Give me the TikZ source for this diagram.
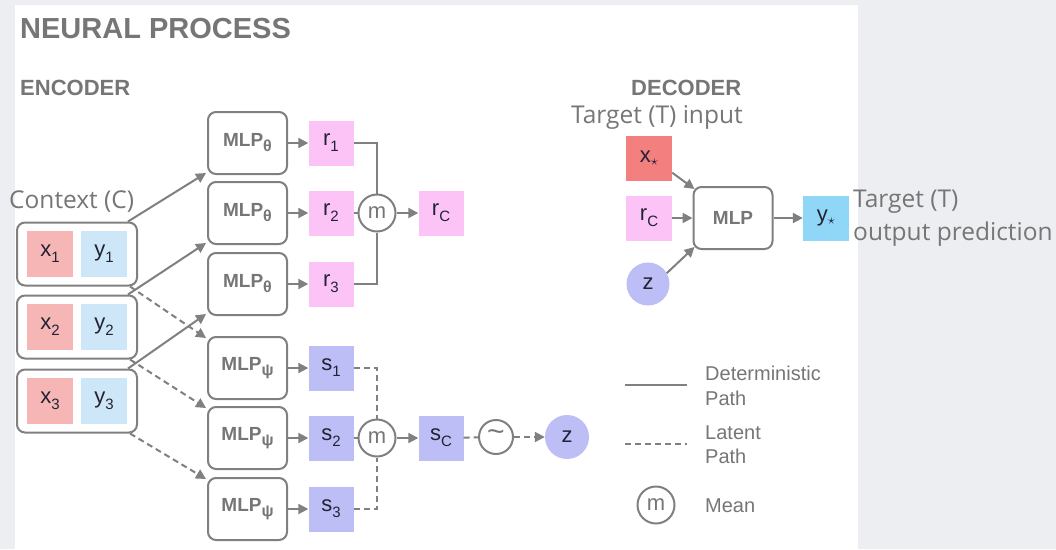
\documentclass[tikz,border=0pt]{standalone}
\usepackage{fontspec}
\setmainfont{Liberation Sans}
\newfontfamily\robo{Open Sans}
\usetikzlibrary{arrows.meta,calc}
\definecolor{bgc}{HTML}{EDEEF2}
\definecolor{lc}{HTML}{808080}
\definecolor{tc}{HTML}{767676}
\definecolor{dark}{HTML}{222233}
\definecolor{pinkc}{HTML}{FBC3F6}
\definecolor{purc}{HTML}{BEBEF7}
\definecolor{xc}{HTML}{F6B6B6}
\definecolor{yc}{HTML}{CEE7F8}
\definecolor{xsc}{HTML}{F37F7F}
\definecolor{ysc}{HTML}{8FD6F7}
\newcommand\mysub[2]{#1\raisebox{-6pt}{\fontsize{15}{15}\selectfont #2}}
\newcommand\mlpsub[1]{MLP\raisebox{-5pt}{\fontsize{16}{16}\selectfont #1}}
\tikzset{
  mlpbox/.style={draw=lc, line width=2pt, rounded corners=8pt, minimum width=79pt,
    minimum height=62pt, inner sep=0pt, fill=white,
    font=\fontsize{19}{19}\selectfont\bfseries, text=tc},
  ctxbox/.style={draw=lc, line width=2pt, rounded corners=8pt, minimum width=120pt,
    minimum height=63pt, inner sep=0pt, fill=white},
  sq/.style={minimum size=45pt, inner sep=0pt, font=\fontsize{22}{22}\selectfont, text=dark},
  rsq/.style={sq, fill=pinkc},
  ssq/.style={sq, fill=purc},
  xsq/.style={sq, fill=xc, minimum size=46pt},
  ysq/.style={sq, fill=yc, minimum size=46pt},
  meanc/.style={circle, draw=lc, line width=2pt, minimum size=37pt, inner sep=0pt, fill=white,
    font=\fontsize{22}{22}\selectfont, text=tc},
  ln/.style={draw=lc, line width=2pt},
  arr/.style={ln, -{Triangle[length=10pt,width=10pt]}},
  dsh/.style={dash pattern=on 6pt off 4pt},
  ttl/.style={anchor=base west, inner sep=0pt, text=tc},
  lbl/.style={anchor=base west, inner sep=0pt, text=tc, font=\robo\fontsize{24.5}{24.5}\selectfont},
  leg/.style={anchor=base west, inner sep=0pt, text=tc, font=\fontsize{20}{20}\selectfont},
}
\begin{document}
\begin{tikzpicture}[x=1pt,y=-1pt]
\useasboundingbox (0,0) rectangle (1056,549);
\fill[bgc] (0,0) rectangle (1056,549);
\fill[white] (15,5) rectangle (858,549);

% titles
\node[ttl, font=\fontsize{29}{29}\selectfont\bfseries] (title) at (20,38) {NEURAL PROCESS};
\node[ttl, font=\fontsize{22}{22}\selectfont\bfseries] (enc) at (20,95) {ENCODER};
\node[ttl, font=\fontsize{22}{22}\selectfont\bfseries] (dec) at (631,95) {DECODER};
\node[lbl] (ctx) at (9,208) {Context (C)};
\node[lbl] (tin) at (571,123) {Target (T) input};
\node[lbl] (tout1) at (853,207) {Target (T)};
\node[lbl] (tout2) at (853,240) {output prediction};

% context boxes
\foreach \i/\yy in {1/254,2/327,3/401}{
  \node[ctxbox] (c\i) at (77,\yy) {};
  \node[xsq] (x\i) at (50,\yy) {\mysub{x}{\i}};
  \node[ysq] (y\i) at (104,\yy) {\mysub{y}{\i}};
}

% MLP boxes
\foreach \i/\yy in {1/143,2/213,3/284}{
  \node[mlpbox] (m\i) at (247.5,\yy) {\mlpsub{θ}};
  \node[rsq] (r\i) at (331,\yy) {\mysub{r}{\i}};
  \draw[arr] (m\i) -- (r\i);
}
\foreach \i/\yy in {1/368,2/438,3/509}{
  \node[mlpbox] (p\i) at (247.5,\yy) {\mlpsub{ψ}};
  \node[ssq] (s\i) at (331,\yy) {\mysub{s}{\i}};
  \draw[arr] (p\i) -- (s\i);
}

% context to MLP
\foreach \i in {1,2,3}{
  \draw[arr] ([xshift=-10pt]c\i.north east) -- ([xshift=-1pt,yshift=2pt]m\i.south west);
  \draw[arr,dsh] ([xshift=-8pt]c\i.south east) -- ([xshift=-1pt,yshift=-2pt]p\i.north west);
}

% deterministic aggregation
\node[meanc] (mr) at (377,213) {m};
\node[rsq] (rC) at (441,213) {\mysub{r}{C}};
\draw[ln] (r1.east) -| (mr.north);
\draw[ln] (r3.east) -| (mr.south);
\draw[ln] (r2.east) -- (mr.west);
\draw[arr] (mr) -- (rC);

% latent aggregation
\node[meanc] (ms) at (377,438) {m};
\node[ssq] (sC) at (441,438) {\mysub{s}{C}};
\node[meanc, minimum size=34pt, font=\fontsize{30}{30}\selectfont] (tl) at (496,437) {\raisebox{3pt}{\textasciitilde}};
\node[circle, fill=purc, minimum size=44pt, inner sep=0pt, font=\fontsize{22}{22}\selectfont, text=dark] (z) at (567,437) {z};
\draw[ln,dsh] (s1.east) -| (ms.north);
\draw[ln,dsh] (s3.east) -| (ms.south);
\draw[ln,dsh] (s2.east) -- (ms.west);
\draw[arr] (ms) -- (sC);
\draw[ln,dsh] (sC) -- (tl);
\draw[arr,dsh] (tl) -- (z);

% decoder
\node[sq, fill=xsc, minimum width=46pt] (xs) at (649,158) {x\raisebox{-3pt}{$\scriptstyle\star$}};
\node[rsq, minimum width=46pt] (rcd) at (649,218) {\mysub{r}{C}};
\node[circle, fill=purc, minimum size=43pt, inner sep=0pt, font=\fontsize{22}{22}\selectfont, text=dark] (zd) at (648,284) {z};
\node[mlpbox] (dm) at (733,218) {MLP};
\node[sq, fill=ysc, minimum width=46pt] (ys) at (826,218) {y\raisebox{-3pt}{$\scriptstyle\star$}};
\draw[arr] ([yshift=8pt]xs.south east) -- ([xshift=2pt,yshift=-3pt]dm.north west);
\draw[arr] (rcd) -- (dm);
\draw[arr] (zd.30) -- ([xshift=2pt,yshift=3pt]dm.south west);
\draw[arr] (dm) -- (ys);

% legend
\coordinate (l1a) at (625,385); \coordinate (l1b) at (687,385);
\coordinate (l2a) at (625,444); \coordinate (l2b) at (687,444);
\draw[ln] (l1a) -- (l1b);
\draw[ln,dsh] (l2a) -- (l2b);
\node[leg] (ld1) at (705,380) {Deterministic};
\node[leg] (ld2) at (705,405) {Path};
\node[leg] (ll1) at (705,439) {Latent};
\node[leg] (ll2) at (705,463) {Path};
\node[meanc] (lm) at (656,505) {m};
\node[leg] (lmean) at (705,512) {Mean};
\end{tikzpicture}
\end{document}
